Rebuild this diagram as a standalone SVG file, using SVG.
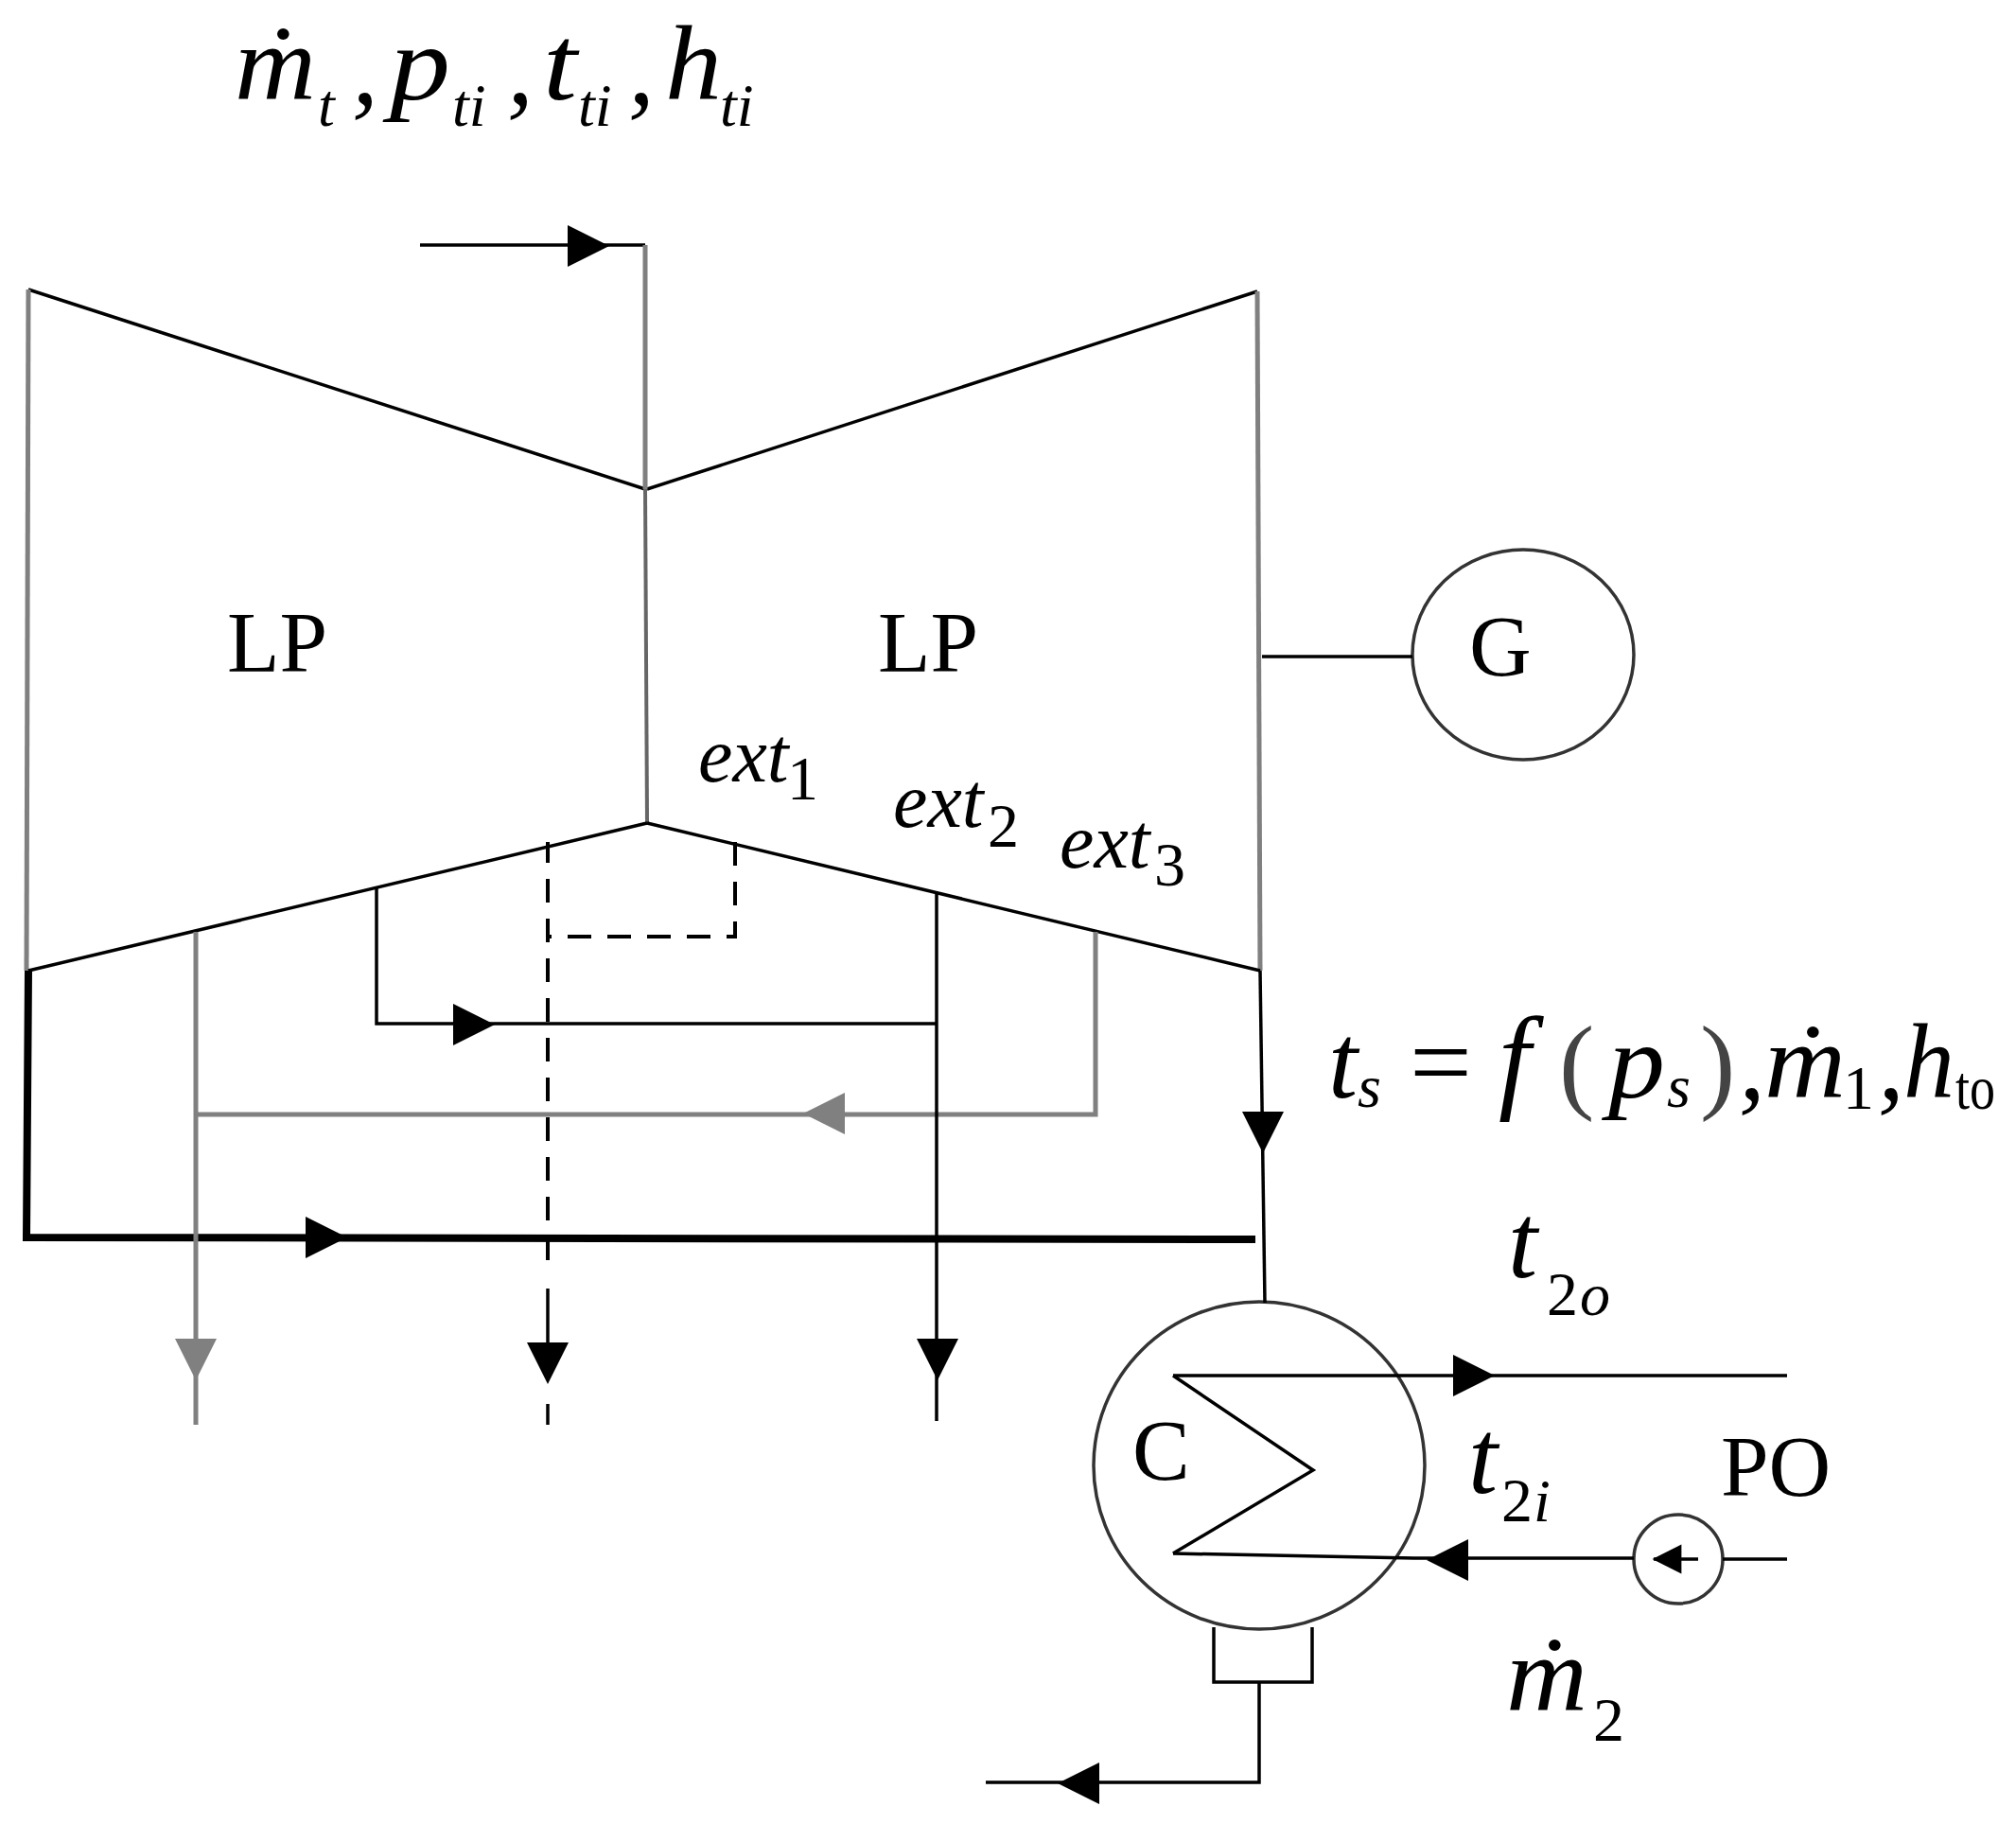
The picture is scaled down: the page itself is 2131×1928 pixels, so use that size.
<svg xmlns="http://www.w3.org/2000/svg" width="2131" height="1928" viewBox="0 0 2131 1928">
<style>
.l{fill:none;stroke:#000;stroke-width:3.5}
.g{fill:none;stroke:#808080;stroke-width:5}
.k{fill:none;stroke:#666;stroke-width:4}
.d{fill:none;stroke:#000;stroke-width:4;stroke-dasharray:25 17}
.t{fill:none;stroke:#000;stroke-width:8}
.c{fill:#fff;stroke:#333;stroke-width:3.5}
text{font-family:"Liberation Serif","Times New Roman",serif;fill:#000}
.r{font-size:91px}
.i{font-size:112px;font-style:italic}
.u{font-size:112px}
.e{font-size:82px;font-style:italic}
.s{font-size:64px;font-style:italic}
.n{font-size:66px}
.gf{fill:#808080}
</style>
<defs><path id="ah" d="M-22,-22 L22,0 L-22,22Z"/></defs>
<rect width="2131" height="1928" fill="#fff"/>
<g id="turbine-left">
<path class="l" d="M30,306 L682,517"/>
<path class="g" d="M30,306 L28,1026"/>
<path class="k" d="M682,517 L684,870"/>
<path class="l" d="M30,1026 L684,870"/>
<text class="r" x="240" y="710">LP</text>
</g>
<g id="turbine-right">
<path class="l" d="M684,517 L1329,308"/>
<path class="g" d="M1329,308 L1332,1026"/>
<path class="l" d="M684,870 L1332,1026"/>
<text class="r" x="928" y="710">LP</text>
</g>
<g id="generator">
<ellipse class="c" cx="1610" cy="692" rx="117" ry="111"/>
<text class="r" x="1553" y="714">G</text>
</g>
<g id="condenser">
<ellipse class="c" cx="1331" cy="1549" rx="175" ry="173"/>
<path class="l" d="M1240,1454 L1388,1554 L1240,1642"/>
<text class="r" x="1197" y="1564">C</text>
<path class="l" d="M1283,1720 V1778 H1387 V1720"/>
</g>
<g id="pump">
<ellipse class="c" cx="1774" cy="1648" rx="47" ry="47"/>
<text class="r" x="1819" y="1581">PO</text>
</g>
<g id="connectors">
<path class="l" d="M444,259 H682"/>
<path class="g" d="M682,259 V517"/>
<path class="l" d="M1334,694 H1493"/>
<path class="l" d="M1332,1026 L1337,1377"/>
<path class="t" d="M30,1026 L28,1308 L1327,1310"/>
<path class="g" d="M207,985 V1506"/>
<path class="g" d="M1158,985 V1178 H207"/>
<path class="l" d="M398,938 V1082 H990"/>
<path class="l" d="M990,945 V1502"/>
<path class="d" d="M777,890 V990 H579"/>
<path class="d" stroke-dashoffset="3" d="M579,890 V1345"/>
<path class="l" stroke-width="4" d="M579,1362 V1420"/>
<path class="l" stroke-width="4" d="M579,1484 V1506"/>
<path class="l" d="M1240,1454 H1889"/>
<path class="l" d="M1240,1642 L1495,1647 H1727"/>
<path class="l" d="M1748,1648 H1795"/>
<path class="l" d="M1821,1648 H1889"/>
<path class="l" d="M1331,1778 V1884 H1042"/>
<use href="#ah" transform="translate(622,260)"/>
<use href="#ah" transform="translate(345,1308)"/>
<use href="#ah" transform="translate(501,1083)"/>
<use href="#ah" transform="translate(1335,1197) rotate(90)"/>
<use href="#ah" class="gf" transform="translate(871,1177) rotate(180)"/>
<use href="#ah" class="gf" transform="translate(207,1437) rotate(90)"/>
<use href="#ah" transform="translate(579,1441) rotate(90)"/>
<use href="#ah" transform="translate(991,1437) rotate(90)"/>
<use href="#ah" transform="translate(1558,1454)"/>
<use href="#ah" transform="translate(1530,1649) rotate(180)"/>
<use href="#ah" transform="translate(1762,1648) rotate(180) scale(.7)"/>
<use href="#ah" transform="translate(1140,1885) rotate(180)"/>
</g>
<g id="labels">
<text class="i" x="248" y="105" textLength="86" lengthAdjust="spacingAndGlyphs">ṁ</text><text class="s" x="336" y="133">t</text>
<text class="i" x="372" y="110">,</text>
<text class="i" x="412" y="105" textLength="64" lengthAdjust="spacingAndGlyphs">p</text><text class="s" x="478" y="133">ti</text>
<text class="i" x="536" y="110">,</text>
<text class="i" x="574" y="105" textLength="36" lengthAdjust="spacingAndGlyphs">t</text><text class="s" x="611" y="133">ti</text>
<text class="i" x="664" y="110">,</text>
<text class="i" x="703" y="105" textLength="60" lengthAdjust="spacingAndGlyphs">h</text><text class="s" x="761" y="133">ti</text>
<text class="e" x="738" y="826">ext</text><text class="n" x="832" y="845">1</text>
<text class="e" x="944" y="874">ext</text><text class="n" x="1044" y="895">2</text>
<text class="e" x="1120" y="917">ext</text><text class="n" x="1220" y="936">3</text>
<text class="i" x="1404" y="1160">t</text><text class="s" x="1435" y="1170">s</text>
<text class="u" x="1490" y="1160" textLength="66" lengthAdjust="spacingAndGlyphs">=</text>
<text class="i" x="1584" y="1160" style="font-size:122px">f</text>
<text class="u" x="1648" y="1162" style="fill:#444">(</text>
<text class="i" x="1700" y="1160" textLength="60" lengthAdjust="spacingAndGlyphs">p</text><text class="s" x="1762" y="1170">s</text>
<text class="u" x="1797" y="1162" style="fill:#444">)</text>
<text class="i" x="1838" y="1162">,</text>
<text class="i" x="1865" y="1160" textLength="86" lengthAdjust="spacingAndGlyphs">ṁ</text><text class="n" x="1948" y="1172">1</text>
<text class="i" x="1985" y="1162">,</text>
<text class="i" x="2012" y="1160" textLength="54" lengthAdjust="spacingAndGlyphs">h</text><text class="n" x="2067" y="1172" textLength="42" lengthAdjust="spacingAndGlyphs">to</text>
<text class="i" x="1594" y="1350">t</text><text class="n" x="1635" y="1390">2</text><text class="s" x="1670" y="1390">o</text>
<text class="i" x="1552" y="1578">t</text><text class="n" x="1587" y="1608">2</text><text class="s" x="1621" y="1608">i</text>
<text class="i" x="1592" y="1808" textLength="86" lengthAdjust="spacingAndGlyphs">ṁ</text><text class="n" x="1684" y="1840">2</text>
</g>
</svg>
